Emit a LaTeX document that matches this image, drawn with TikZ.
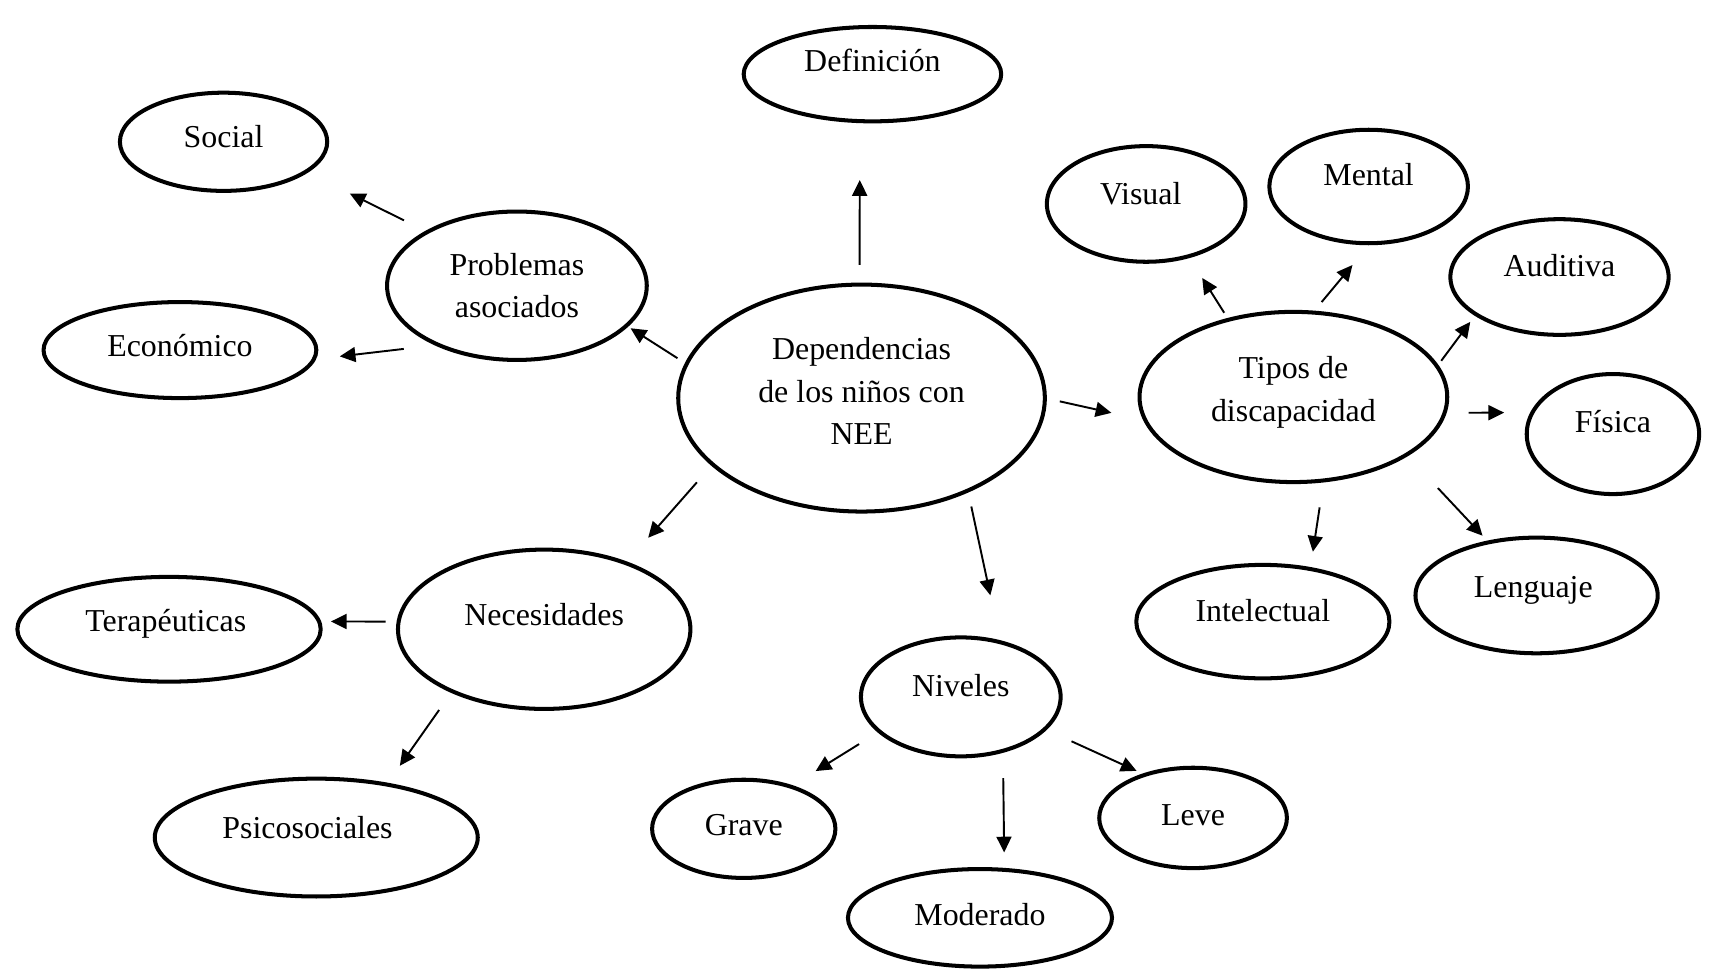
\documentclass[tikz,border=0pt]{standalone}
\usepackage{fontspec}
\setmainfont{Liberation Serif}
\usetikzlibrary{arrows.meta,shapes.geometric}
\newcommand\mlines[1]{\begin{tabular}[t]{@{}c@{}}#1\end{tabular}}
\begin{document}
\begin{tikzpicture}[x=0.01cm,y=-0.01cm,
  ell/.style={draw, ellipse, line width=1.05pt, inner sep=0pt, outer sep=0pt,
    font=\fontsize{8.32pt}{11pt}\selectfont, text height=8pt},
  arr/.style={-{Triangle[length=4.1pt,width=3.9pt]}, line width=0.5pt}]
\useasboundingbox (0,0) rectangle (1568,890);
% nodes
\node[ell, minimum width=2.36cm, minimum height=0.80cm, text depth=9.4pt] (def) at (800,68) {Definición};
\node[ell, minimum width=1.90cm, minimum height=0.90cm, text depth=4.9pt] (soc) at (205,130) {Social};
\node[ell, minimum width=2.38cm, minimum height=1.36cm, text depth=13.4pt] (prob) at (474,262) {\mlines{Problemas\\asociados}};
\node[ell, minimum width=2.50cm, minimum height=0.88cm, text depth=4.9pt] (eco) at (165,321) {Económico};
\node[ell, minimum width=3.36cm, minimum height=2.08cm, text depth=27.9pt] (dep) at (790,365) {\mlines{Dependencias\\de los niños con\\NEE}};
\node[ell, minimum width=1.82cm, minimum height=1.06cm, text depth=7.7pt] (vis) at (1051,187) {Visual\kern0.1cm};
\node[ell, minimum width=1.82cm, minimum height=1.04cm, text depth=8.3pt] (men) at (1255,171) {Mental};
\node[ell, minimum width=2.00cm, minimum height=1.06cm, text depth=8.3pt] (aud) at (1430,254) {Auditiva};
\node[ell, minimum width=2.82cm, minimum height=1.56cm, text depth=17.4pt] (tip) at (1186,364) {\mlines{Tipos de\\discapacidad}};
\node[ell, minimum width=1.58cm, minimum height=1.10cm, text depth=8.85pt] (fis) at (1479,398) {Física};
\node[ell, minimum width=2.32cm, minimum height=1.04cm, text depth=8.3pt] (int) at (1158,570) {Intelectual};
\node[ell, minimum width=2.22cm, minimum height=1.06cm, text depth=7.15pt] (len) at (1409,546) {Lenguaje\kern0.06cm};
\node[ell, minimum width=2.68cm, minimum height=1.46cm, text depth=10pt] (nec) at (499,577) {Necesidades};
\node[ell, minimum width=2.78cm, minimum height=0.96cm, text depth=6.6pt] (ter) at (155,577) {Terapéuticas\kern0.06cm};
\node[ell, minimum width=2.96cm, minimum height=1.08cm, text depth=7.7pt] (psi) at (290,768) {Psicosociales\kern0.16cm};
\node[ell, minimum width=1.83cm, minimum height=1.09cm, text depth=8pt] (niv) at (881,639) {Niveles};
\node[ell, minimum width=1.68cm, minimum height=0.90cm, text depth=4.3pt] (gra) at (682,760) {Grave};
\node[ell, minimum width=1.72cm, minimum height=0.92cm, text depth=4.3pt] (lev) at (1094,750) {Leve};
\node[ell, minimum width=2.42cm, minimum height=0.894cm, text depth=4.25pt] (mod) at (898.6,841.6) {Moderado};
% connectors
\draw[arr, shorten <=0.18cm, shorten >=0.54cm] (dep.91) -- (def.255);
\draw[arr, shorten <=0.24cm, shorten >=0.45cm] (prob.149) -- (soc.340);
\draw[arr, shorten <=0.32cm, shorten >=0.24cm] (prob.217) -- (eco.356);
\draw[arr, shorten <=0.10cm, shorten >=0.045cm] (dep.169) -- (prob.340);
\draw[arr, shorten <=0.14cm, shorten >=0.32cm] (dep.0) -- (tip.189);
\draw[arr, shorten <=0.22cm, shorten >=0.31cm] (dep.204) -- (nec.39);
\draw[arr, shorten <=0.15cm, shorten >=0.44cm] (dep.319) -- (niv.54);
\draw[arr, shorten <=0.076cm, shorten >=0.235cm] (tip.130) -- (vis.309);
\draw[arr, shorten <=0.125cm, shorten >=0.26cm] (tip.77) -- (men.272);
\draw[arr, shorten <=0.065cm, shorten >=0.087cm] (tip.12) -- (aud.204);
\draw[arr, shorten <=0.22cm, shorten >=0.26cm] (tip.354) -- (fis.165);
\draw[arr, shorten <=0.25cm, shorten >=0.16cm] (tip.290) -- (int.48);
\draw[arr, shorten <=0.42cm, shorten >=0.083cm] (tip.333) -- (len.132);
\draw[arr, shorten <=0.12cm, shorten >=0.11cm] (nec.177) -- (ter.3);
\draw[arr, shorten <=0.21cm, shorten >=0.21cm] (nec.214) -- (psi.37);
\draw[arr, shorten <=0.22cm, shorten >=0.27cm] (niv.203) -- (gra.42);
\draw[arr, shorten <=0.25cm, shorten >=0.16cm] (niv.308) -- (mod.63);
\draw[arr, shorten <=0.27cm, shorten >=0.086cm] (niv.339) -- (lev.138);
\end{tikzpicture}
\end{document}
